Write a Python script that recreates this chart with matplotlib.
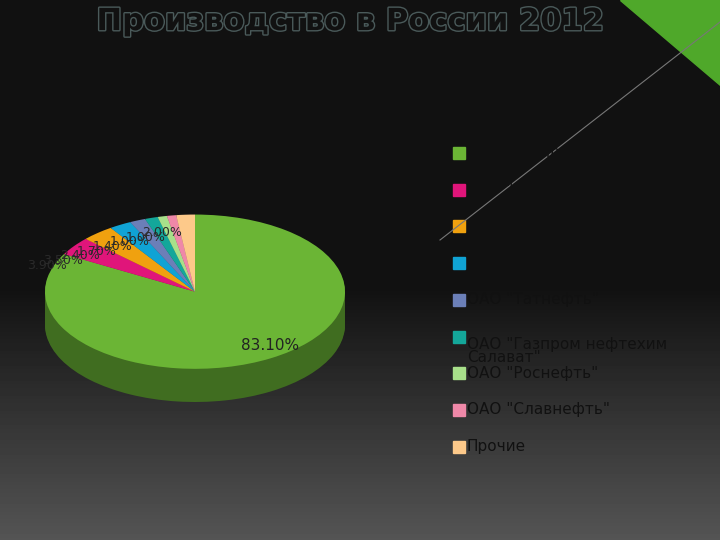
import matplotlib
matplotlib.use("Agg")
import matplotlib.pyplot as plt
import numpy as np
import matplotlib.colors as mc
import matplotlib.patheffects as pe

labels = ['ОАО "Газпром"', 'ОАО "ЛУКОЙЛ"', 'ОАО "ТНК-ВР"', 'ОАО "Сургутнефтегаз"',
          'ОАО "Татнефть"', 'ОАО "Газпром нефтехим\nСалават"', 'ОАО "Роснефть"',
          'ОАО "Славнефть"', 'Прочие']
values = [83.1, 3.9, 3.5, 2.4, 1.7, 1.4, 1.0, 1.0, 2.0]
colors = ['#6bb535', '#e0157a', '#f0a10f', '#10a3d4', '#6b7fb8', '#14a79a',
          '#a8e08a', '#ef88a8', '#fdc98a']
small = ['3.90%', '3.50%', '2.40%', '1.70%', '1.40%', '1.00%', '1.00%', '2.00%']

fig = plt.figure(figsize=(7.2, 5.4), dpi=100)
bg = fig.add_axes([0, 0, 1, 1])
grad = np.concatenate([np.full(290, 0.07), np.linspace(0.07, 0.33, 250)])[:, None]
bg.imshow(grad, cmap='gray', vmin=0, vmax=1, aspect='auto', extent=[0, 720, 540, 0])
bg.plot([440, 720], [240, 22], color='#777777', lw=0.8)
bg.fill([620, 720, 720], [0, 0, 85], color='#4fa82a')
bg.set_xlim(0, 720); bg.set_ylim(540, 0); bg.axis('off')

fig.text(0.485, 0.96, 'Производство в России 2012', ha='center', va='center',
         fontsize=22, fontweight='bold', color='#111111',
         path_effects=[pe.withStroke(linewidth=2, foreground='#4a5a5a')])

depth = 0.43
ax = fig.add_axes([45/720, 1-402/540, 300/720, 189/540])
n = 25
for k in range(n, 0, -1):
    dk = [mc.to_hex(np.array(mc.to_rgb(c)) * 0.6) for c in colors]
    ax.pie(values, colors=dk, startangle=90, counterclock=False,
           center=(0, -depth * k / n), radius=1, frame=True)
wedges, _ = ax.pie(values, colors=colors, startangle=90, counterclock=False,
                   radius=1, frame=True)
ax.set_aspect('auto')
ax.set_xlim(-1, 1); ax.set_ylim(-1 - depth, 1.02); ax.axis('off')
ax.text(0.5, -0.75, '83.10%', fontsize=11, color='#222222', ha='center')
for i, s in enumerate(small):
    ax.text(-1.12 + i * 0.11, 0.3 + i * 0.06, s, fontsize=9, color='#2a2a2a', ha='left')

# legend
for i, (lab, c) in enumerate(zip(labels, colors)):
    y = 153 + i * 36.7
    bg.add_patch(plt.Rectangle((453, y - 6), 12, 12, color=c))
    bg.text(467, y, lab, fontsize=11, color='#111111', va='center' if i != 5 else 'top',
            linespacing=0.9)

fig.savefig('out.png', dpi=100)
